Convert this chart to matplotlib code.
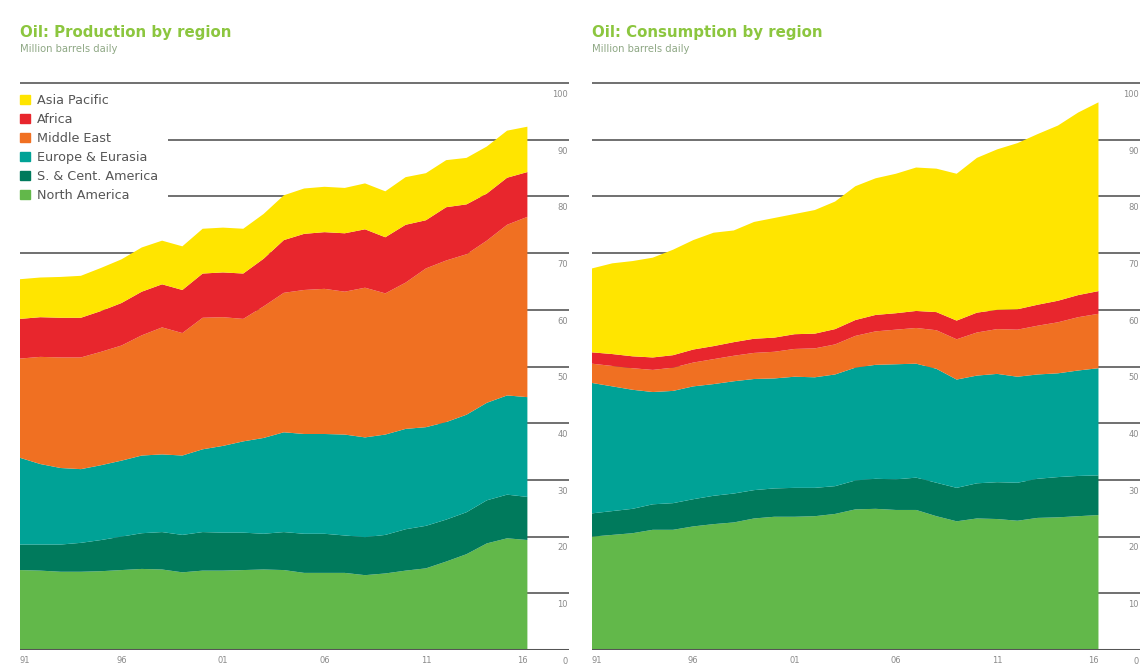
import numpy as np
import matplotlib
matplotlib.use("Agg")
import matplotlib.pyplot as plt
import matplotlib.patches as mpatches

plt.rcParams['font.family'] = ['DejaVu Sans']

years = list(range(1991, 2017))
regions = ["North America", "S. & Cent. America", "Europe & Eurasia",
           "Middle East", "Africa", "Asia Pacific"]
colors = ['#62B84A', '#007A5C', '#00A296', '#F07022', '#E8262D', '#FFE500']

# production, million barrels daily
prod_na = [14.1, 14.0, 13.8, 13.8, 13.9, 14.1, 14.3, 14.2, 13.7, 14.0, 14.0, 14.1, 14.2,
           14.1, 13.6, 13.6, 13.6, 13.2, 13.5, 14.0, 14.4, 15.6, 16.9, 18.8, 19.7, 19.4]
prod_sca = [4.5, 4.6, 4.8, 5.1, 5.5, 5.9, 6.3, 6.6, 6.6, 6.8, 6.7, 6.6, 6.3,
            6.7, 6.9, 6.9, 6.6, 6.7, 6.8, 7.3, 7.5, 7.4, 7.4, 7.6, 7.7, 7.6]
prod_ee = [15.3, 14.2, 13.5, 13.0, 13.2, 13.4, 13.7, 13.7, 14.0, 14.6, 15.3, 16.1, 16.9,
           17.6, 17.6, 17.6, 17.8, 17.6, 17.7, 17.7, 17.4, 17.2, 17.2, 17.2, 17.5, 17.6]
prod_me = [17.5, 18.9, 19.5, 19.7, 20.0, 20.3, 21.2, 22.4, 21.6, 23.2, 22.7, 21.6, 23.2,
           24.6, 25.4, 25.6, 25.2, 26.4, 24.9, 25.8, 28.0, 28.5, 28.3, 28.6, 30.1, 31.8]
prod_af = [7.0, 7.0, 7.0, 7.0, 7.2, 7.5, 7.7, 7.6, 7.6, 7.8, 7.9, 8.0, 8.4,
           9.3, 9.9, 10.0, 10.3, 10.3, 9.9, 10.2, 8.5, 9.4, 8.8, 8.3, 8.3, 7.9]
prod_ap = [7.0, 7.0, 7.2, 7.4, 7.6, 7.7, 7.8, 7.7, 7.7, 7.9, 7.9, 7.9, 7.9,
           7.9, 8.0, 8.0, 8.0, 8.1, 8.1, 8.4, 8.3, 8.3, 8.2, 8.3, 8.3, 8.0]

# consumption, million barrels daily
cons_na = [20.0, 20.3, 20.6, 21.2, 21.2, 21.8, 22.2, 22.5, 23.2, 23.5, 23.5, 23.6, 24.0,
           24.8, 24.9, 24.7, 24.7, 23.6, 22.7, 23.2, 23.1, 22.8, 23.3, 23.4, 23.6, 23.8]
cons_sca = [4.1, 4.2, 4.3, 4.5, 4.7, 4.8, 5.0, 5.1, 5.0, 5.0, 5.1, 5.0, 4.9,
            5.1, 5.3, 5.4, 5.7, 5.9, 5.9, 6.2, 6.5, 6.7, 6.9, 7.1, 7.1, 7.0]
cons_ee = [23.0, 22.0, 21.0, 19.8, 19.8, 19.9, 19.7, 19.8, 19.6, 19.4, 19.6, 19.5, 19.7,
           19.9, 20.1, 20.3, 20.1, 20.1, 19.1, 19.0, 19.1, 18.7, 18.4, 18.3, 18.6, 18.9]
cons_me = [3.4, 3.6, 3.8, 3.9, 4.1, 4.2, 4.4, 4.5, 4.6, 4.7, 4.9, 5.1, 5.3,
           5.6, 5.9, 6.1, 6.3, 6.8, 7.1, 7.6, 7.9, 8.3, 8.6, 9.0, 9.4, 9.6]
cons_af = [2.0, 2.1, 2.1, 2.2, 2.2, 2.3, 2.3, 2.4, 2.5, 2.5, 2.6, 2.6, 2.7,
           2.8, 2.9, 2.9, 3.0, 3.2, 3.3, 3.5, 3.4, 3.6, 3.7, 3.8, 3.9, 4.0]
cons_ap = [14.8, 16.0, 16.8, 17.6, 18.6, 19.3, 20.0, 19.7, 20.6, 21.1, 21.2, 21.8, 22.5,
           23.6, 24.1, 24.6, 25.3, 25.3, 25.9, 27.3, 28.3, 29.3, 30.1, 30.9, 32.2, 33.3]

yticks = [0, 10, 20, 30, 40, 50, 60, 70, 80, 90, 100]
xticks = [1991, 1996, 2001, 2006, 2011, 2016]
xticklabels = ['91', '96', '01', '06', '11', '16']

GRID = '#707070'
LABEL = '#8a8a8a'


def draw_panel(ax, series, legend=False):
    for v in yticks[1:]:
        ax.axhline(v, color=GRID, lw=1.4, zorder=0)
    ax.axhline(0, color='#555555', lw=2.2, zorder=3)
    ax.stackplot(years, *series, colors=colors, zorder=1, linewidth=0)
    ax.set_xlim(1991, 2018.05)
    ax.set_ylim(0, 102)
    for s in ax.spines.values():
        s.set_visible(False)
    ax.set_yticks([])
    ax.set_xticks(xticks)
    ax.set_xticklabels(xticklabels, fontsize=6, color=LABEL)
    ax.tick_params(axis='x', length=0, pad=4)
    tl = ax.get_xticklabels()
    tl[0].set_ha('left')
    tl[-1].set_ha('right')
    for v in yticks:
        ax.text(0.998, v - 1.2, str(v), transform=ax.get_yaxis_transform(),
                ha='right', va='top', fontsize=6, color=LABEL)
    if legend:
        handles = [mpatches.Patch(color=c, label=r) for c, r in zip(colors, regions)][::-1]
        leg = ax.legend(handles=handles, loc='upper left', bbox_to_anchor=(-0.0186, 0.9787),
                        fontsize=9.2, frameon=True, facecolor='white', edgecolor='none',
                        framealpha=1, borderpad=0.8, borderaxespad=0, handlelength=0.75,
                        handleheight=0.75, handletextpad=0.55, labelspacing=0.47)
        for t in leg.get_texts():
            t.set_color('#555555')
        leg.set_zorder(5)


fig = plt.figure(figsize=(11.42, 6.71), dpi=100)
ax1 = fig.add_axes([20 / 1142, 21 / 671, 549 / 1142, 578.3 / 671])
ax2 = fig.add_axes([592 / 1142, 21 / 671, 548 / 1142, 578.3 / 671])

draw_panel(ax1, [prod_na, prod_sca, prod_ee, prod_me, prod_af, prod_ap], legend=True)
draw_panel(ax2, [cons_na, cons_sca, cons_ee, cons_me, cons_af, cons_ap])

TITLE = '#8CC63F'
for x0, title in [(20, "Oil: Production by region"), (592, "Oil: Consumption by region")]:
    fig.text(x0 / 1142, 1 - 32 / 671, title, fontsize=10.8,
             fontweight='bold', color=TITLE, va='center', ha='left')
    fig.text(x0 / 1142, 1 - 49 / 671, "Million barrels daily", fontsize=7.2,
             color='#8fa885', va='center', ha='left')

fig.savefig("out.png", dpi=100, facecolor='white')
